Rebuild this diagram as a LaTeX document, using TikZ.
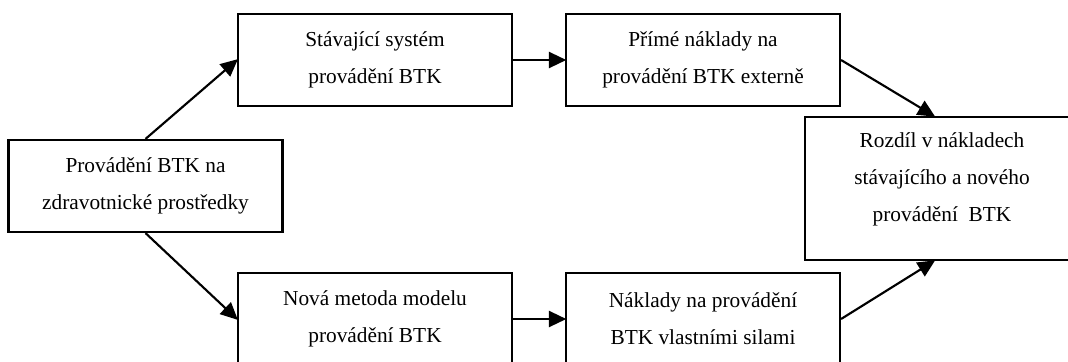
\documentclass[tikz,border=0pt]{standalone}
\usepackage{fontspec}
\setmainfont{Liberation Serif}
\usetikzlibrary{arrows.meta}
\tikzset{
  box/.style={draw, line width=1.6pt, rectangle, inner sep=0pt,
    minimum width=205.5pt, minimum height=69pt, align=center,
    font=\fontsize{16}{27.75}\selectfont},
  txt/.style={align=center, inner sep=0pt, font=\fontsize{16}{27.75}\selectfont},
  link/.style={line width=1.6pt, -{Triangle[length=13pt,width=12pt]}, shorten >=-1pt}
}
\begin{document}
\begin{tikzpicture}[x=0.75pt,y=-0.75pt]
  \useasboundingbox (0,0) rectangle (1068,361);
  \clip (0,0) rectangle (1068,361);
  % source box on the left
  \node[box] (src) at (145.5,186) {Provádění BTK na\\zdravotnické prostředky};
  % upper branch
  \node[box] (cur) at (375,60) {Stávající systém\\provádění BTK};
  \node[box] (ext) at (703,60) {Přímé náklady na\\provádění BTK externě};
  % lower branch
  \node[box] (new) at (375,319) {Nová metoda modelu\\provádění BTK};
  \node[box] (own) at (703,319) {Náklady na provádění\\BTK vlastními silami};
  % result box on the right
  \node[box, minimum height=107.25pt] (res) at (942,188.5) {};
  \node[txt] (restext) at (942,179) {Rozdíl v nákladech\\stávajícího a nového\\provádění~ BTK};
  \coordinate (resN) at ([xshift=-6pt]res.north);
  \coordinate (resS) at ([xshift=-6pt]res.south);
  % connectors
  \draw[link] (src.north) -- (cur.west);
  \draw[link] (src.south) -- (new.west);
  \draw[link] (cur.east) -- (ext.west);
  \draw[link] (new.east) -- (own.west);
  \draw[link] (ext.east) -- (resN);
  \draw[link] (own.east) -- (resS);
\end{tikzpicture}
\end{document}
